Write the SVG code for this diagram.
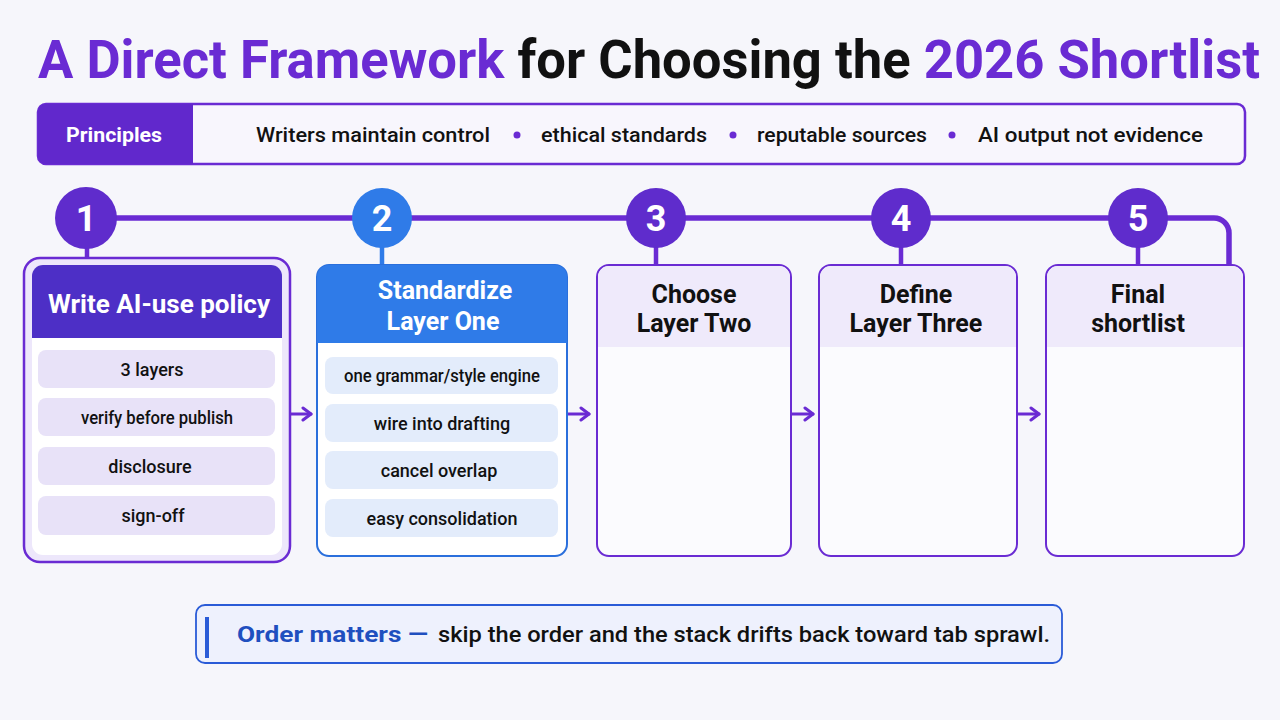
<svg xmlns="http://www.w3.org/2000/svg" width="1280" height="720" viewBox="0 0 1280 720">
<defs>
<style>
.t{font-family:Roboto,"Liberation Sans",sans-serif}
.b{font-weight:700}
.m{font-weight:500}
.p{fill:#6a2bd3}
.k{fill:#111}
.w{fill:#fff}
.item{font-family:Roboto,"Liberation Sans",sans-serif;font-size:18px;font-weight:500;fill:#111;text-anchor:middle}
.hd{font-family:Roboto,"Liberation Sans",sans-serif;font-size:25px;font-weight:700;text-anchor:middle}
.circ{fill:#5f2ccc}
.num{font-family:Roboto,"Liberation Sans",sans-serif;font-size:36px;font-weight:700;fill:#fff;text-anchor:middle}
.conn{stroke:#6a2bd3;fill:none;stroke-linecap:round;stroke-linejoin:round}
.pill1{fill:#e8e2f8}
.pill2{fill:#e3ecfb}
.card{fill:#fbfbfe;stroke:#6a2bd3;stroke-width:2}
</style>
<marker id="arr" viewBox="0 0 12 16" refX="10" refY="8" markerWidth="12" markerHeight="16" markerUnits="userSpaceOnUse" orient="auto">
<path d="M2 2 L10 8 L2 14" fill="none" stroke="#6a2bd3" stroke-width="3" stroke-linecap="round" stroke-linejoin="round"/>
</marker>
</defs>
<rect width="1280" height="720" fill="#f6f6fb"/>

<g id="title">
<text class="t b" x="38" y="78" font-size="53" textLength="1222" lengthAdjust="spacingAndGlyphs"><tspan class="p">A Direct Framework</tspan><tspan class="k"> for Choosing the </tspan><tspan class="p">2026 Shortlist</tspan></text>
</g>

<g id="principles">
<rect x="38" y="104" width="1207" height="60" rx="8" fill="#f8f6fd" stroke="#6a2bd3" stroke-width="2.5"/>
<path d="M46 104 H193 V164 H46 A8 8 0 0 1 38 156 V112 A8 8 0 0 1 46 104 Z" fill="#6128cc"/>
<text class="t b w" x="114" y="142" font-size="21" text-anchor="middle" textLength="96" lengthAdjust="spacingAndGlyphs">Principles</text>
<g class="t m k" font-size="21">
<text x="256" y="142" textLength="234" lengthAdjust="spacingAndGlyphs">Writers maintain control</text>
<text x="541" y="142" textLength="166" lengthAdjust="spacingAndGlyphs">ethical standards</text>
<text x="757" y="142" textLength="170" lengthAdjust="spacingAndGlyphs">reputable sources</text>
<text x="978" y="142" textLength="225" lengthAdjust="spacingAndGlyphs">AI output not evidence</text>
</g>
<circle cx="517" cy="135" r="3.5" fill="#6a2bd3"/>
<circle cx="733" cy="135" r="3.5" fill="#6a2bd3"/>
<circle cx="952" cy="135" r="3.5" fill="#6a2bd3"/>
</g>

<g id="connectors">
<path d="M86 218 H1214 A15 15 0 0 1 1229 233 V265" class="conn" stroke-width="5.5"/>
<line x1="87" y1="240" x2="87" y2="259" class="conn" stroke-width="4.5"/>
<line x1="382" y1="240" x2="382" y2="266" stroke="#2f7be8" stroke-width="4.5"/>
<line x1="656" y1="240" x2="656" y2="266" class="conn" stroke-width="4.5"/>
<line x1="901" y1="240" x2="901" y2="266" class="conn" stroke-width="4.5"/>
<line x1="1138" y1="240" x2="1138" y2="266" class="conn" stroke-width="4.5"/>
<line x1="291" y1="414" x2="311" y2="414" class="conn" stroke-width="3" marker-end="url(#arr)"/>
<line x1="568" y1="414" x2="589" y2="414" class="conn" stroke-width="3" marker-end="url(#arr)"/>
<line x1="792" y1="414" x2="813" y2="414" class="conn" stroke-width="3" marker-end="url(#arr)"/>
<line x1="1018" y1="414" x2="1039" y2="414" class="conn" stroke-width="3" marker-end="url(#arr)"/>
</g>

<g id="step1">
<circle class="circ" cx="86" cy="218" r="31"/>
<text class="num" x="86" y="231">1</text>
<rect x="24" y="258" width="266" height="304" rx="16" fill="#ede7fb" stroke="#6a2bd3" stroke-width="2.5"/>
<rect x="32" y="265" width="250" height="290" rx="11" fill="#fff"/>
<path d="M43 265 H271 A11 11 0 0 1 282 276 V338 H32 V276 A11 11 0 0 1 43 265 Z" fill="#4d2fc6"/>
<text class="hd w" x="159" y="313" font-size="27" textLength="222" lengthAdjust="spacingAndGlyphs">Write AI-use policy</text>
<rect class="pill1" x="38" y="350" width="237" height="38" rx="8"/>
<rect class="pill1" x="38" y="398" width="237" height="38" rx="8"/>
<rect class="pill1" x="38" y="447" width="237" height="38" rx="8"/>
<rect class="pill1" x="38" y="496" width="237" height="39" rx="8"/>
<text class="item" x="152" y="376">3 layers</text>
<text class="item" x="157" y="424" textLength="152" lengthAdjust="spacingAndGlyphs">verify before publish</text>
<text class="item" x="150" y="473">disclosure</text>
<text class="item" x="153" y="522">sign-off</text>
</g>

<g id="step2">
<circle cx="382" cy="218" r="30" fill="#2f7be8"/>
<text class="num" x="382" y="231">2</text>
<rect x="317" y="265" width="250" height="291" rx="12" fill="#fff" stroke="#2a6fdc" stroke-width="2"/>
<path d="M329 265 H555 A12 12 0 0 1 567 277 V343 H317 V277 A12 12 0 0 1 329 265 Z" fill="#2f7be8"/>
<text class="hd w" x="445" y="299">Standardize</text>
<text class="hd w" x="443" y="330">Layer One</text>
<rect class="pill2" x="325" y="357" width="233" height="37" rx="8"/>
<rect class="pill2" x="325" y="404" width="233" height="38" rx="8"/>
<rect class="pill2" x="325" y="451" width="233" height="38" rx="8"/>
<rect class="pill2" x="325" y="499" width="233" height="38" rx="8"/>
<text class="item" x="442" y="382" textLength="196" lengthAdjust="spacingAndGlyphs">one grammar/style engine</text>
<text class="item" x="442" y="430">wire into drafting</text>
<text class="item" x="439" y="477">cancel overlap</text>
<text class="item" x="442" y="525">easy consolidation</text>
</g>

<g id="step3">
<circle class="circ" cx="656" cy="218" r="30"/>
<text class="num" x="656" y="231">3</text>
<rect class="card" x="597" y="265" width="194" height="291" rx="12"/>
<path d="M609 266 H779 A11 11 0 0 1 790 277 V347 H598 V277 A11 11 0 0 1 609 266 Z" fill="#efeafb"/>
<text class="hd k" x="694" y="303">Choose</text>
<text class="hd k" x="694" y="332">Layer Two</text>
</g>

<g id="step4">
<circle class="circ" cx="901" cy="218" r="30"/>
<text class="num" x="901" y="231">4</text>
<rect class="card" x="819" y="265" width="198" height="291" rx="12"/>
<path d="M831 266 H1005 A11 11 0 0 1 1016 277 V347 H820 V277 A11 11 0 0 1 831 266 Z" fill="#efeafb"/>
<text class="hd k" x="916" y="303">Define</text>
<text class="hd k" x="916" y="332">Layer Three</text>
</g>

<g id="step5">
<circle class="circ" cx="1138" cy="218" r="30"/>
<text class="num" x="1138" y="231">5</text>
<rect class="card" x="1046" y="265" width="198" height="291" rx="12"/>
<path d="M1058 266 H1232 A11 11 0 0 1 1243 277 V347 H1047 V277 A11 11 0 0 1 1058 266 Z" fill="#efeafb"/>
<text class="hd k" x="1138" y="303">Final</text>
<text class="hd k" x="1138" y="332">shortlist</text>
</g>

<g id="note">
<rect x="196" y="605" width="866" height="58" rx="9" fill="#eef1fd" stroke="#2a5bd7" stroke-width="1.8"/>
<rect x="205" y="617" width="4" height="41" fill="#2a5bd7"/>
<text class="t b" x="237" y="642" font-size="22" fill="#1f4fbf" textLength="191" lengthAdjust="spacingAndGlyphs">Order matters —</text>
<text class="t m k" x="438" y="642" font-size="22" textLength="612" lengthAdjust="spacingAndGlyphs">skip the order and the stack drifts back toward tab sprawl.</text>
</g>
</svg>
